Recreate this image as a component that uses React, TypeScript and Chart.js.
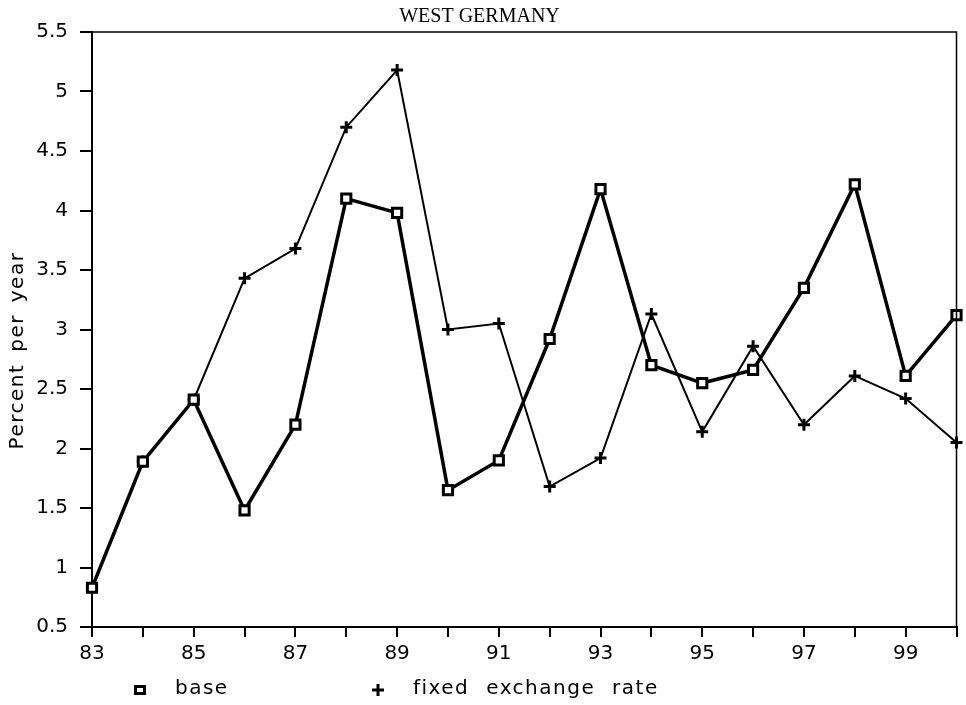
import React, { useEffect, useRef } from 'react';
import { Chart, registerables } from 'chart.js';

Chart.register(...registerables);

const titleText = 'WEST GERMANY';
const yAxisTitle = 'Percent per year';
const years = ['83', '84', '85', '86', '87', '88', '89', '90', '91', '92', '93', '94', '95', '96', '97', '98', '99', '100'];
const labelledYears = ['83', '85', '87', '89', '91', '93', '95', '97', '99'];
const baseValues = [0.83, 1.89, 2.41, 1.48, 2.2, 4.1, 3.98, 1.65, 1.9, 2.92, 4.18, 2.7, 2.55, 2.66, 3.35, 4.22, 2.61, 3.12];
const fixedValues = [0.83, 1.89, 2.41, 3.43, 3.68, 4.7, 5.18, 3.0, 3.05, 1.68, 1.92, 3.13, 2.14, 2.86, 2.2, 2.61, 2.42, 2.05];
const seriesNames = ['base', 'fixed exchange rate'];
const yMin = 0.5;
const yMax = 5.5;
const yStep = 0.5;

const FONT = '"DejaVu Sans", sans-serif';

const decorPlugin = {
  id: 'decor',
  afterDraw(chart: any) {
    const { ctx, chartArea: a } = chart;
    ctx.save();
    // top and right frame
    ctx.strokeStyle = '#000';
    ctx.lineWidth = 1.5;
    ctx.beginPath();
    ctx.moveTo(a.left, a.top);
    ctx.lineTo(a.right, a.top);
    ctx.lineTo(a.right, a.bottom);
    ctx.stroke();

    // y axis title
    ctx.fillStyle = '#000';
    ctx.font = '20px ' + FONT;
    (ctx as any).letterSpacing = '1.5px';
    (ctx as any).wordSpacing = '4px';
    ctx.textAlign = 'center';
    ctx.textBaseline = 'middle';
    ctx.save();
    ctx.translate(a.left - 74, (a.top + a.bottom) / 2 + 21);
    ctx.rotate(-Math.PI / 2);
    ctx.fillText(yAxisTitle, 0, 0);
    ctx.restore();

    // legend
    const legendY = a.bottom + 63;
    const markerX = [a.left + 48, a.left + 286];
    chart.data.datasets.forEach((ds: any, i: number) => {
      const mx = markerX[i];
      ctx.save();
      ctx.strokeStyle = '#000';
      ctx.lineWidth = 3;
      if (ds.pointStyle === 'rect') {
        ctx.fillStyle = '#fff';
        ctx.beginPath();
        ctx.rect(mx - 4.5, legendY - 3.5, 9, 7);
        ctx.fill();
        ctx.stroke();
      } else {
        ctx.beginPath();
        ctx.moveTo(mx - 6, legendY);
        ctx.lineTo(mx + 6, legendY);
        ctx.moveTo(mx, legendY - 6);
        ctx.lineTo(mx, legendY + 6);
        ctx.stroke();
      }
      ctx.restore();
      ctx.textAlign = 'left';
      ctx.textBaseline = 'middle';
      (ctx as any).wordSpacing = '9px';
      ctx.fillText(ds.label, mx + 35, legendY - 1);
    });
    ctx.restore();
  },
};

export default function App() {
  const ref = useRef<HTMLCanvasElement | null>(null);

  useEffect(() => {
    document.body.style.margin = '0';
    const canvas = ref.current;
    if (!canvas) return;
    const chart = new Chart(canvas, {
      type: 'line',
      data: {
        labels: years,
        datasets: [
          {
            label: seriesNames[0],
            data: baseValues,
            borderColor: '#000',
            borderWidth: 3.5,
            tension: 0,
            pointStyle: 'rect',
            pointRadius: 6.5,
            pointBorderWidth: 3,
            pointBackgroundColor: '#fff',
            pointBorderColor: '#000',
          },
          {
            label: seriesNames[1],
            data: fixedValues,
            borderColor: '#000',
            borderWidth: 2,
            tension: 0,
            pointStyle: 'cross',
            pointRadius: 6,
            pointBorderWidth: 3,
            pointBorderColor: '#000',
          },
        ],
      },
      options: {
        animation: false,
        responsive: false,
        maintainAspectRatio: false,
        layout: { padding: { left: 0, right: 7, top: 0, bottom: 38 } },
        plugins: {
          legend: { display: false },
          tooltip: { enabled: false },
          title: {
            display: true,
            text: titleText,
            color: '#000',
            font: { family: '"Liberation Serif", serif', size: 20, weight: 'normal' },
            padding: { top: 5, bottom: 3 },
          },
        },
        scales: {
          x: {
            type: 'category',
            offset: false,
            afterFit: (s: any) => {
              s.height = 40;
            },
            grid: {
              drawOnChartArea: false,
              drawTicks: true,
              tickLength: 10,
              color: '#000',
              lineWidth: 2,
            },
            border: { display: true, color: '#000', width: 2 },
            ticks: {
              autoSkip: false,
              maxRotation: 0,
              padding: 5,
              color: '#000',
              font: { family: FONT, size: 20 },
              callback: (_v: any, i: number) => (labelledYears.includes(years[i]) ? years[i] : ''),
            },
          },
          y: {
            type: 'linear',
            min: yMin,
            max: yMax,
            afterFit: (s: any) => {
              s.width = 92;
            },
            grid: {
              drawOnChartArea: false,
              drawTicks: true,
              tickLength: 12,
              color: '#000',
              lineWidth: 2,
            },
            border: { display: true, color: '#000', width: 2 },
            ticks: {
              stepSize: yStep,
              padding: 12,
              color: '#000',
              font: { family: FONT, size: 20 },
              callback: (v: any) => String(Number(v)),
            },
          },
        },
      },
      plugins: [decorPlugin],
    });
    return () => chart.destroy();
  }, []);

  return <canvas ref={ref} width={966} height={705} style={{ display: 'block' }} />;
}
